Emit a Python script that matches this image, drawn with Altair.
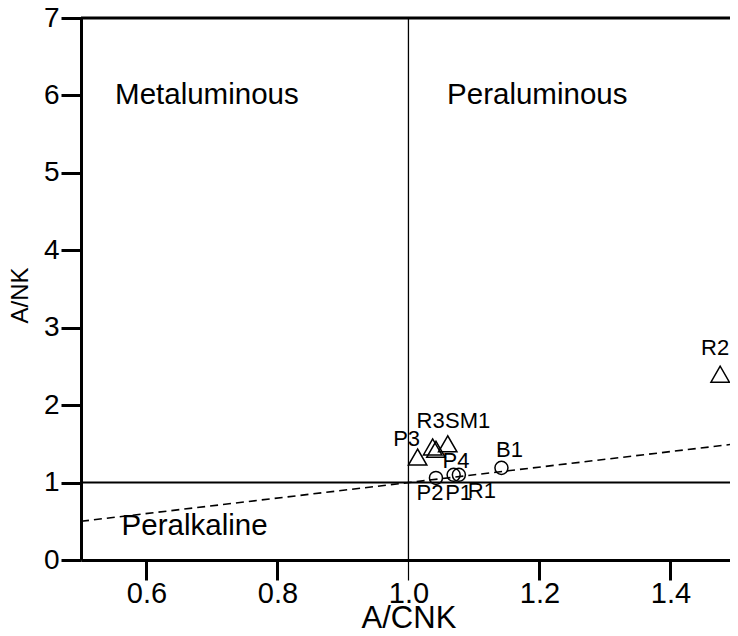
import altair as alt
import pandas as pd

# ---- data ----
tri_names = ["P3", "R3", "P4", "SM1", "R2"]
tri_acnk = [1.014, 1.037, 1.042, 1.060, 1.476]
tri_ank = [1.33, 1.46, 1.43, 1.50, 2.40]

cir_names = ["P2", "P1", "R1", "B1"]
cir_acnk = [1.042, 1.069, 1.077, 1.142]
cir_ank = [1.06, 1.10, 1.10, 1.19]

x_ticks = [0.6, 0.8, 1.0, 1.2, 1.4]
y_ticks = [0, 1, 2, 3, 4, 5, 6, 7]
x_dom = [0.5, 1.491]
y_dom = [0, 7]

region_names = ["Metaluminous", "Peraluminous", "Peralkaline"]
region_x = [0.552, 1.059, 0.562]
region_y = [5.89, 5.89, 0.32]

# label offsets in pixels (dx, dy) relative to each marker
label_off = {
    "P3": (-11, -11), "R3": (-2, -19), "P4": (20, 19), "SM1": (20, -16),
    "R2": (-5, -19), "P2": (-6, 22), "P1": (5, 25), "R1": (23, 23), "B1": (8, -11),
}

FONT = "Liberation Sans"
W, H = 649, 542

tri = pd.DataFrame({"name": tri_names, "x": tri_acnk, "y": tri_ank})
cir = pd.DataFrame({"name": cir_names, "x": cir_acnk, "y": cir_ank})
pts = pd.concat([tri, cir], ignore_index=True)

xs = alt.Scale(domain=x_dom, nice=False, zero=False)
ys = alt.Scale(domain=y_dom, nice=False, zero=False)

xaxis = alt.Axis(
    values=x_ticks, format=".1f", grid=False, title="A/CNK",
    tickSize=20, tickWidth={"condition": {"test": "datum.value == 1", "value": 1.2}, "value": 3},
    domainWidth=3, domainColor="black", tickColor="black",
    labelFontSize=29, labelPadding=22, labelBaseline="alphabetic", labelColor="black", labelFont=FONT,
    titleFontSize=31, titleFont=FONT, titleFontWeight="normal", titleColor="black",
    titleBaseline="alphabetic", titleY=67, titleX=W * (1.0 - x_dom[0]) / (x_dom[1] - x_dom[0]),
)
yaxis = alt.Axis(
    values=y_ticks, grid=False, title="A/NK",
    tickSize=20, tickWidth=3, domainWidth=3, domainColor="black", tickColor="black",
    labelFontSize=28, labelPadding=2, labelColor="black", labelFont=FONT,
    titleFontSize=24, titleFont=FONT, titleFontWeight="normal", titleColor="black",
    titleBaseline="alphabetic", titleX=-54, titleY=H / 2 + 6,
)

base_x = alt.X("x:Q", scale=xs, axis=xaxis)
base_y = alt.Y("y:Q", scale=ys, axis=yaxis)

top_rule = alt.Chart(pd.DataFrame({"x": [x_dom[0]], "x2": [x_dom[1]], "y": [y_dom[1]]})).mark_rule(
    color="black", strokeWidth=3
).encode(x=base_x, x2="x2:Q", y=base_y)

v_rule = alt.Chart(pd.DataFrame({"x": [1.0], "y": [y_dom[0]], "y2": [y_dom[1]]})).mark_rule(
    color="black", strokeWidth=1.3
).encode(x=base_x, y=base_y, y2="y2:Q")

h_rule = alt.Chart(pd.DataFrame({"x": [x_dom[0]], "x2": [x_dom[1]], "y": [1.0]})).mark_rule(
    color="black", strokeWidth=2
).encode(x=base_x, x2="x2:Q", y=base_y)

dash = alt.Chart(pd.DataFrame({"x": x_dom, "y": x_dom})).mark_line(
    color="black", strokeWidth=1.6, strokeDash=[8, 5], clip=True
).encode(x=base_x, y=base_y)

tri_mark = alt.Chart(tri).mark_point(
    shape="triangle-up", size=340, filled=False, color="black", strokeWidth=1.5, opacity=1
).encode(x=base_x, y=base_y)

cir_mark = alt.Chart(cir).mark_point(
    shape="circle", size=170, filled=False, color="black", strokeWidth=1.5, opacity=1
).encode(x=base_x, y=base_y)

label_layers = []
for nm in pts["name"]:
    dx, dy = label_off[nm]
    label_layers.append(
        alt.Chart(pts[pts["name"] == nm]).mark_text(
            font=FONT, fontSize=22, color="black", align="center", baseline="alphabetic", dx=dx, dy=dy
        ).encode(x=base_x, y=base_y, text="name:N")
    )

regions = alt.Chart(pd.DataFrame({"name": region_names, "x": region_x, "y": region_y})).mark_text(
    font=FONT, fontSize=29.5, color="black", align="left", baseline="alphabetic"
).encode(x=base_x, y=base_y, text="name:N")

chart = alt.layer(
    top_rule, v_rule, h_rule, dash, tri_mark, cir_mark, regions, *label_layers
).properties(
    width=W, height=H,
    autosize=alt.AutoSizeParams(type="none"),
    padding={"left": 73, "top": 10, "right": 0, "bottom": 68},
).configure_view(stroke=None).configure_axis(
    domainWidth=3, domainColor="black", tickColor="black", tickSize=20, grid=False
).configure(background="white")

chart.save("out.html", embed_options={"renderer": "svg", "actions": False})
